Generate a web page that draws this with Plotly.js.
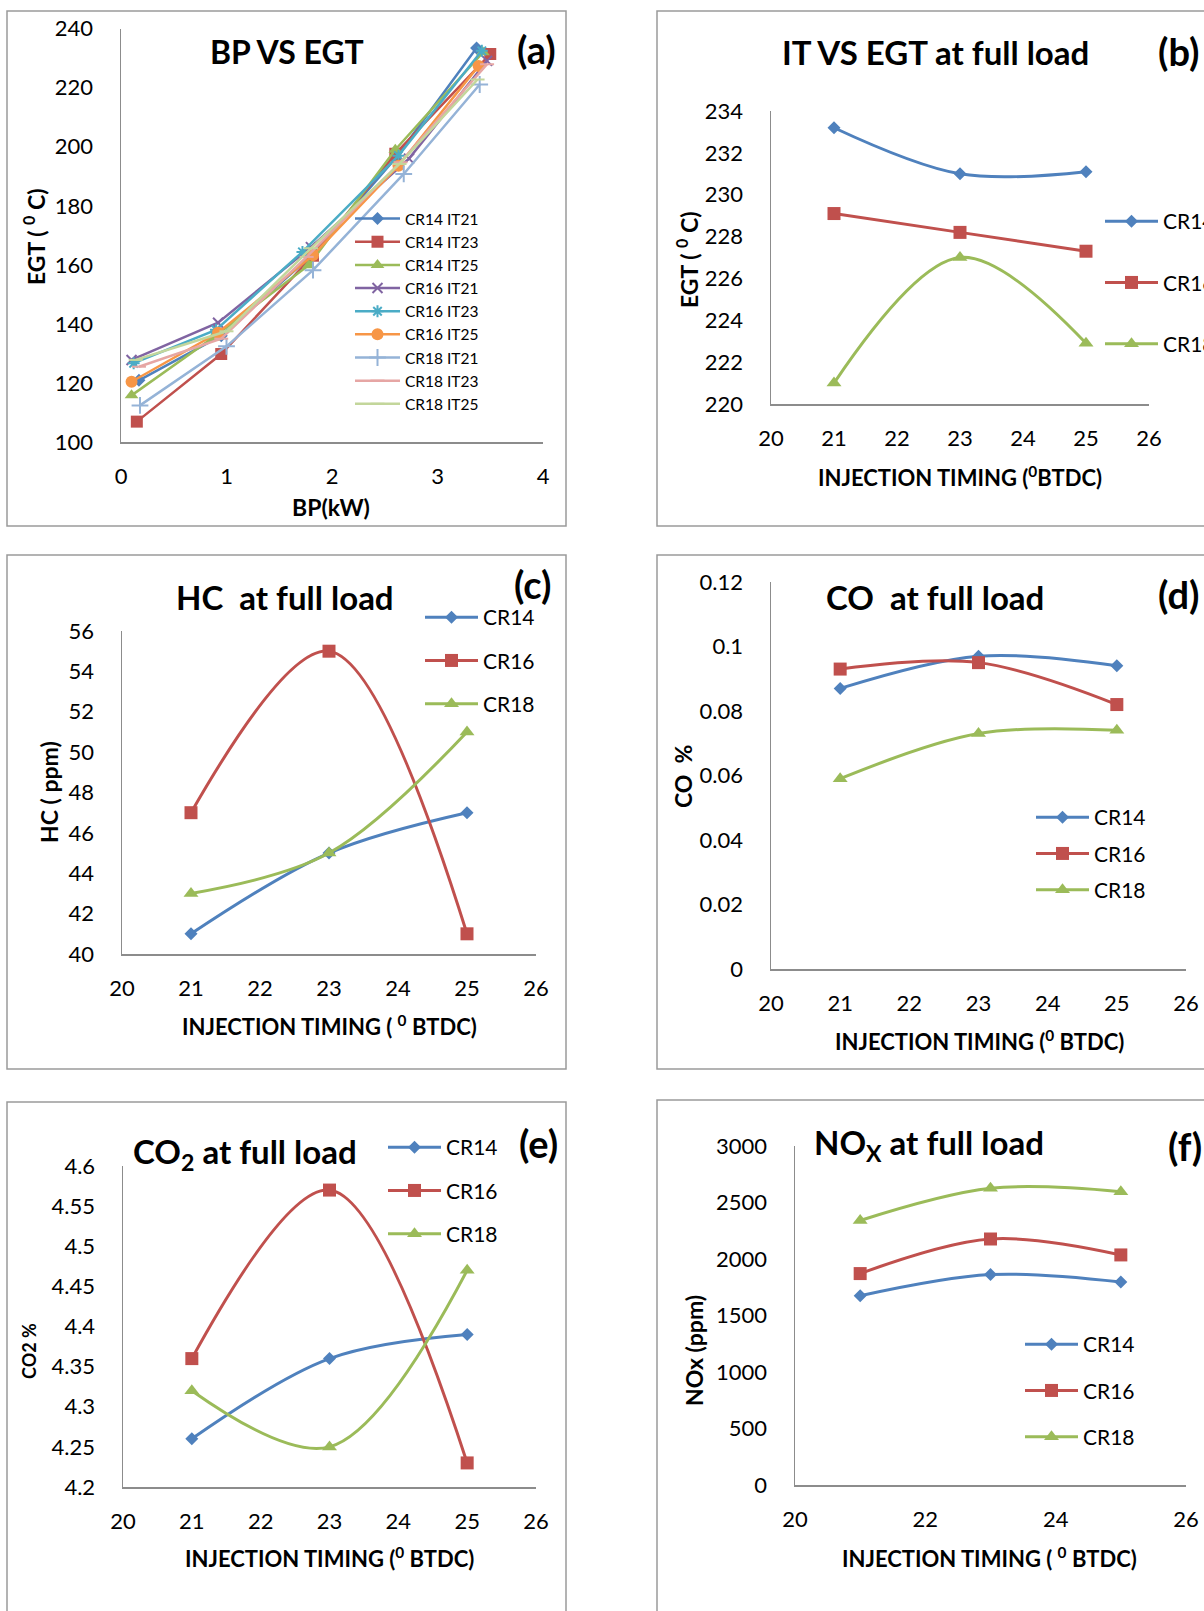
<!DOCTYPE html>
<html>
<head>
<meta charset="utf-8">
<script src="https://cdn.plot.ly/plotly-3.0.1.min.js"></script>
<style>
html,body{margin:0;padding:0;overflow:hidden;background:#fff;}
#chart{width:1260px;height:1611px;}
</style>
</head>
<body>
<div id="chart"></div>
<script>
// ---------------- DATA ----------------
// (a) BP vs EGT
const bpSeriesNames = ['CR14 IT21','CR14 IT23','CR14 IT25','CR16 IT21','CR16 IT23','CR16 IT25','CR18 IT21','CR18 IT23','CR18 IT25'];
const bp_CR14_IT21 = [0.17, 0.95, 1.80, 2.60, 3.37];
const egt_CR14_IT21 = [120.9, 136.0, 163.0, 196.0, 233.5];
const bp_CR14_IT23 = [0.15, 0.95, 1.82, 2.60, 3.50];
const egt_CR14_IT23 = [106.9, 129.8, 163.1, 197.6, 231.4];
const bp_CR14_IT25 = [0.10, 0.87, 1.78, 2.60, 3.43];
const egt_CR14_IT25 = [115.8, 135.3, 159.9, 199.0, 232.0];
const bp_CR16_IT21 = [0.10, 0.92, 1.80, 2.73, 3.47];
const egt_CR16_IT21 = [127.8, 140.4, 166.0, 196.0, 229.1];
const bp_CR16_IT23 = [0.12, 0.90, 1.72, 2.63, 3.42];
const egt_CR16_IT23 = [126.7, 138.0, 164.4, 197.0, 232.5];
const bp_CR16_IT25 = [0.10, 0.92, 1.82, 2.63, 3.39];
const egt_CR16_IT25 = [120.4, 137.0, 163.3, 193.6, 227.4];
const bp_CR18_IT21 = [0.18, 1.00, 1.82, 2.68, 3.40];
const egt_CR18_IT21 = [112.4, 132.4, 158.2, 190.8, 221.1];
const bp_CR18_IT23 = [0.17, 0.95, 1.76, 2.65, 3.47];
const egt_CR18_IT23 = [125.5, 135.0, 162.7, 194.8, 228.0];
const bp_CR18_IT25 = [0.14, 1.00, 1.80, 2.64, 3.38];
const egt_CR18_IT25 = [127.8, 137.5, 165.6, 194.2, 222.8];

// (b)-(f) versus injection timing
const crNames = ['CR14','CR16','CR18'];
const injectionTiming = [21, 23, 25];
const egtFull_CR14 = [233.2, 231.0, 231.1];
const egtFull_CR16 = [229.1, 228.2, 227.3];
const egtFull_CR18 = [221.0, 227.0, 222.9];
const hc_CR14 = [41, 45, 47];
const hc_CR16 = [47, 55, 41];
const hc_CR18 = [43, 45, 51];
const co_CR14 = [0.087, 0.097, 0.094];
const co_CR16 = [0.093, 0.095, 0.082];
const co_CR18 = [0.059, 0.073, 0.074];
const co2_CR14 = [4.26, 4.36, 4.39];
const co2_CR16 = [4.36, 4.57, 4.23];
const co2_CR18 = [4.32, 4.25, 4.47];
const nox_CR14 = [1674, 1862, 1796];
const nox_CR16 = [1871, 2177, 2036];
const nox_CR18 = [2341, 2626, 2596];

// ---------------- LAYOUT HELPERS ----------------
const W = 1260, H = 1611;
const F = 'Lato, "Open Sans", sans-serif';
const px = v => v / W;
const py = v => 1 - v / H;
const dx = (a, b) => [a / W, b / W];
const dy = (t, b) => [1 - b / H, 1 - t / H];
const SP = '\u00A0';

const BLUE = '#4F81BD', RED = '#C0504D', GREEN = '#9BBB59', PURPLE = '#8064A2',
      TEAL = '#4BACC6', ORANGE = '#F79646', LBLUE = '#95B3D7', PINK = '#E6A6A4', LGREEN = '#C3D69B';

function axis(domain, range, dtick, anchor, standoff) {
  return {
    domain: domain, range: range, dtick: dtick, tick0: range[0], anchor: anchor,
    showline: true, linecolor: '#8c8c8c', linewidth: 1.5, showgrid: false, zeroline: false,
    ticks: '', ticklabelstandoff: standoff, fixedrange: true,
    tickfont: {family: F, size: 22, color: '#000'}
  };
}

const traces = [];
function addTrace(x, y, name, color, symbol, size, xa, ya, legend, shape, width, mline) {
  traces.push({
    type: 'scatter', mode: 'lines+markers', x: x, y: y, name: name,
    xaxis: xa, yaxis: ya, legend: legend, legendgroup: legend + '_' + name,
    line: {color: color, width: width, shape: shape},
    marker: {color: color, symbol: symbol, size: size,
             line: mline ? {color: color, width: mline} : {width: 0}}
  });
}

// (a)
const aX = [bp_CR14_IT21, bp_CR14_IT23, bp_CR14_IT25, bp_CR16_IT21, bp_CR16_IT23, bp_CR16_IT25, bp_CR18_IT21, bp_CR18_IT23, bp_CR18_IT25];
const aY = [egt_CR14_IT21, egt_CR14_IT23, egt_CR14_IT25, egt_CR16_IT21, egt_CR16_IT23, egt_CR16_IT25, egt_CR18_IT21, egt_CR18_IT23, egt_CR18_IT25];
const aCol = [BLUE, RED, GREEN, PURPLE, TEAL, ORANGE, LBLUE, PINK, LGREEN];
const aSym = ['diamond','square','triangle-up','x-thin','asterisk','circle','cross-thin','line-ew','line-ew'];
const aSize = [10, 12, 12, 10, 10, 12, 12, 10, 10];
const aMl = [0, 0, 0, 2, 2, 0, 2, 2, 2];
for (let i = 0; i < 9; i++) {
  addTrace(aX[i], aY[i], bpSeriesNames[i], aCol[i], aSym[i], aSize[i], 'x', 'y', 'legend', 'linear', 2.5, aMl[i]);
}
const cCol = [BLUE, RED, GREEN];
const cSym = ['diamond', 'square', 'triangle-up'];
const cSize = [10, 13, 13];
function addGroup(vals, xa, ya, legend) {
  for (let i = 0; i < 3; i++) addTrace(injectionTiming, vals[i], crNames[i], cCol[i], cSym[i], cSize[i], xa, ya, legend, 'spline', 3, 0);
}
addGroup([egtFull_CR14, egtFull_CR16, egtFull_CR18], 'x2', 'y2', 'legend2');
addGroup([hc_CR14, hc_CR16, hc_CR18], 'x3', 'y3', 'legend3');
addGroup([co_CR14, co_CR16, co_CR18], 'x4', 'y4', 'legend4');
addGroup([co2_CR14, co2_CR16, co2_CR18], 'x5', 'y5', 'legend5');
addGroup([nox_CR14, nox_CR16, nox_CR18], 'x6', 'y6', 'legend6');

function legendAt(left, top, size, gap, iw) {
  return {x: px(left), y: py(top), xanchor: 'left', yanchor: 'top', bgcolor: 'rgba(0,0,0,0)',
          borderwidth: 0, font: {family: F, size: size, color: '#000'}, tracegroupgap: gap,
          traceorder: 'grouped', itemwidth: iw};
}

function ann(text, x, y, size, opts) {
  return Object.assign({text: text, x: px(x), y: py(y), xref: 'paper', yref: 'paper',
    xanchor: 'center', yanchor: 'middle', showarrow: false,
    font: {family: F, size: size, color: '#000', weight: 'bold'}}, opts || {});
}

function box(x0, y0, x1, y1) {
  return {type: 'rect', xref: 'paper', yref: 'paper', x0: px(x0), x1: px(x1), y0: py(y1), y1: py(y0),
          line: {color: '#9a9a9a', width: 1.5}, fillcolor: 'rgba(0,0,0,0)'};
}

const layout = {
  width: W, height: H, margin: {l: 0, r: 0, t: 0, b: 0},
  paper_bgcolor: '#fff', plot_bgcolor: 'rgba(0,0,0,0)',
  font: {family: F, color: '#000'},
  showlegend: true, hovermode: false,
  xaxis:  axis(dx(121, 543), [0, 4], 1, 'y', 14),
  yaxis:  axis(dy(28.7, 442), [100, 240], 20, 'x', 22),
  xaxis2: axis(dx(771, 1149), [20, 26], 1, 'y2', 14),
  yaxis2: axis(dy(111, 404), [220, 234], 2, 'x2', 22),
  xaxis3: axis(dx(122, 536), [20, 26], 1, 'y3', 14),
  yaxis3: axis(dy(631, 954), [40, 56], 2, 'x3', 22),
  xaxis4: axis(dx(771, 1186), [20, 26], 1, 'y4', 14),
  yaxis4: axis(dy(582, 969), [0, 0.12], 0.02, 'x4', 22),
  xaxis5: axis(dx(123, 536), [20, 26], 1, 'y5', 14),
  yaxis5: axis(dy(1166, 1487), [4.2, 4.6], 0.05, 'x5', 22),
  xaxis6: axis(dx(795, 1186), [20, 26], 2, 'y6', 14),
  yaxis6: axis(dy(1146, 1485), [0, 3000], 500, 'x6', 22),
  legend:  legendAt(350, 202, 15.5, 0, 45),
  legend2: legendAt(1100, 201, 21, 31, 53),
  legend3: legendAt(420, 597, 21, 13, 53),
  legend4: legendAt(1031, 797, 21, 6, 53),
  legend5: legendAt(383, 1127, 21, 13, 53),
  legend6: legendAt(1020, 1324, 21, 16, 53),
  shapes: [
    box(7, 11, 566, 526), box(657, 11, 1300, 526),
    box(7, 555, 566, 1069), box(657, 555, 1300, 1069),
    box(7, 1102, 566, 1700), box(657, 1100, 1300, 1700)
  ],
  annotations: [
    ann('BP VS EGT', 287, 52, 32),
    ann('(a)', 536, 49, 38),
    ann('BP(kW)', 331, 507, 23),
    ann('EGT ( <sup>0</sup> C)', 34, 237, 23, {textangle: -90}),

    ann('IT VS EGT at full load', 935, 52, 33),
    ann('(b)', 1156, 51, 38, {xanchor: 'left'}),
    ann('INJECTION TIMING (<sup>0</sup>BTDC)', 960, 477, 22),
    ann('EGT ( <sup>0</sup> C)', 687, 259, 23, {textangle: -90}),

    ann('HC' + SP + SP + 'at full load', 285, 597, 33),
    ann('(c)', 532, 584, 38),
    ann('INJECTION TIMING ( <sup>0</sup> BTDC)', 329, 1025, 22),
    ann('HC ( ppm)', 49, 792, 23, {textangle: -90}),

    ann('CO' + SP + SP + 'at full load', 935, 597, 33),
    ann('(d)', 1156, 594, 38, {xanchor: 'left'}),
    ann('INJECTION TIMING (<sup>0</sup> BTDC)', 979, 1040, 22),
    ann('CO' + SP + SP + '%', 683, 777, 23, {textangle: -90}),

    ann('CO<sub>2</sub> at full load', 245, 1153, 33),
    ann('(e)', 538, 1143, 38),
    ann('INJECTION TIMING (<sup>0</sup> BTDC)', 329, 1557, 22),
    ann('CO2 %', 29, 1351, 18, {textangle: -90}),

    ann('NO<sub>X</sub> at full load', 929, 1144, 33),
    ann('(f)', 1166, 1146, 38, {xanchor: 'left'}),
    ann('INJECTION TIMING ( <sup>0</sup> BTDC)', 989, 1557, 22),
    ann('NOx (ppm)', 694, 1351, 23, {textangle: -90})
  ]
};

Plotly.newPlot('chart', traces, layout, {displayModeBar: false, staticPlot: true});
</script>
</body>
</html>
